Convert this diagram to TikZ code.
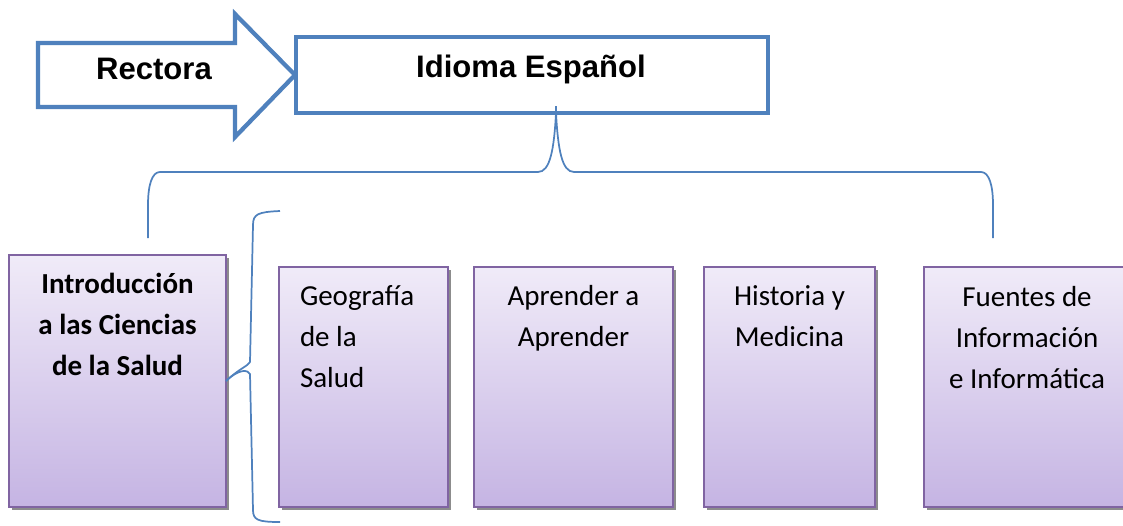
\documentclass[tikz,border=0pt]{standalone}
\usepackage{fontspec}
\setmainfont{Carlito}
\newfontfamily\arialbold{Liberation Sans}[BoldFont={Liberation Sans Bold}]
\usetikzlibrary{shadows}
\definecolor{wblue}{HTML}{4F81BD}
\definecolor{wpurple}{HTML}{8064A2}
\definecolor{gtop}{HTML}{F0EBF8}
\definecolor{gbot}{HTML}{C5B4E3}
\tikzset{
  pbox/.style={draw=wpurple, line width=1.6pt, top color=gtop, bottom color=gbot,
    general shadow={fill=black!45, shadow xshift=2.4pt, shadow yshift=-2.4pt},
    inner sep=0pt, outer sep=0pt},
  btxt/.style={font={\fontsize{21.75}{31}\selectfont}, inner sep=0pt, anchor=base, align=flush center},
  hdr/.style={font={\arialbold\bfseries\fontsize{23.3}{28}\selectfont}, inner sep=0pt},
  brace/.style={draw=wblue, line width=1.3pt}
}
\begin{document}
\begin{tikzpicture}[x=0.75pt, y=-0.75pt]
\useasboundingbox (0,0) rectangle (1123,525);
\clip (0,0) rectangle (1123,525);
% arrow
\draw[wblue, line width=3.2pt, line join=miter, fill=white]
  (38,43) -- (235,43) -- (235,14) -- (295,75) -- (235,137) -- (235,107) -- (38,107) -- cycle;
\node[hdr] (rect) at (154,69) {Rectora};
% top box
\node[draw=wblue, line width=3.6pt, fill=white, minimum width=472*0.75pt, minimum height=76*0.75pt, inner sep=0pt] (top) at (532,75) {};
\node[hdr] (toptxt) at (531,69) {Idioma Español};
% boxes
\node[pbox, minimum width=217*0.75pt, minimum height=252*0.75pt] (intro) at (117.5,381) {};
\node[pbox, minimum width=169*0.75pt, minimum height=240*0.75pt] (geo) at (363.5,387) {};
\node[pbox, minimum width=199*0.75pt, minimum height=240*0.75pt] (apr) at (573.5,387) {};
\node[pbox, minimum width=171*0.75pt, minimum height=240*0.75pt] (his) at (789.5,387) {};
\node[pbox, minimum width=206*0.75pt, minimum height=240*0.75pt] (fue) at (1027,387) {};
% texts
\node[btxt, font={\bfseries\fontsize{21.75}{31}\selectfont}, text width=210*0.75pt] (introt) at (117.5,293) {Introducción\\a las Ciencias\\de la Salud};
\node[btxt, align=flush left, text width=140*0.75pt] (geot) at (370,305) {Geografía\\de la\\Salud};
\node[btxt, text width=190*0.75pt] (aprt) at (573.5,305) {Aprender a\\Aprender};
\node[btxt, text width=165*0.75pt] (hist) at (789.5,305) {Historia y\\Medicina};
\node[btxt, text width=200*0.75pt] (fuet) at (1027,306) {Fuentes de\\Información\\e Informática};
% top brace
\coordinate (bl) at (148,238);
\coordinate (br) at (993,238);
\coordinate (btip) at (556,113);
\draw[brace] (bl) -- (148,205) .. controls (148,185) and (152,172) .. (160,172)
  -- (538,172) .. controls (550,172) and (554,150) .. (btip);
\draw[brace] (br) -- (993,205) .. controls (993,185) and (989,172) .. (981,172)
  -- (574,172) .. controls (562,172) and (558,150) .. (btip);
\draw[brace] (btip) -- (556,106);
% left bracket
\coordinate (lt) at (280,211);
\coordinate (lb) at (280,522);
\draw[brace] (intro.east) .. controls (240,368) and (248,366) .. (250,362)
  -- (253,225) .. controls (253,214) and (258,212) .. (lt);
\draw[brace] (intro.east) .. controls (240,368) and (248,370) .. (250,374)
  -- (253,510) .. controls (253,520) and (258,522) .. (lb);
\end{tikzpicture}
\end{document}
